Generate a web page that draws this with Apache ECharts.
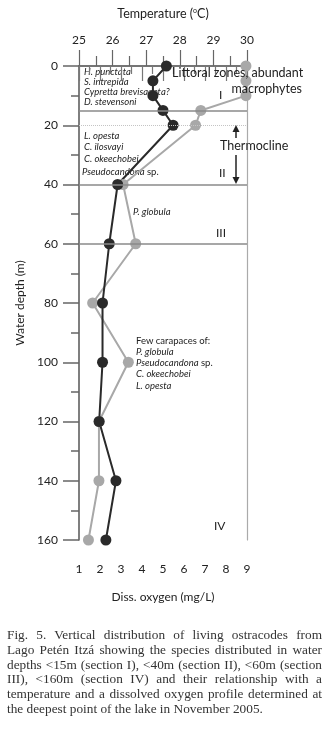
<!DOCTYPE html>
<html>
<head>
<meta charset="utf-8">
<script src="https://cdn.jsdelivr.net/npm/echarts@6/dist/echarts.min.js"></script>
<style>
  html, body { margin: 0; padding: 0; background: #fff; }
  #chart { position: absolute; left: 0; top: 0; width: 329px; height: 735px; }
  #caption {
    position: absolute; left: 7px; top: 628px; width: 315px;
    font-family: 'Liberation Serif', serif; font-size: 13.3px; line-height: 14.8px;
    color: #333;
  }
  #caption div { text-align: justify; text-align-last: justify; white-space: nowrap; }
  #caption div.last { text-align-last: left; }
</style>
</head>
<body>
<div id="chart"></div>
<div id="caption">
  <div>Fig. 5. Vertical distribution of living ostracodes from</div>
  <div>Lago Petén Itzá showing the species distributed in water</div>
  <div>depths &lt;15m (section I), &lt;40m (section II), &lt;60m (section</div>
  <div>III), &lt;160m (section IV) and their relationship with a</div>
  <div>temperature and a dissolved oxygen profile determined at</div>
  <div class="last">the deepest point of the lake in November 2005.</div>
</div>
<script>
// depth of each sample (m)
const depths = [0, 5, 10, 15, 20, 40, 60, 80, 100, 120, 140, 160]
// temperature profile (ºC) - black line, top axis
const temperature = [27.6, 27.2, 27.2, 27.5, 27.8, 26.15, 25.9, 25.7, 25.7, 25.6, 26.1, 25.8]
// dissolved oxygen (mg/L) - grey line, bottom axis
const oxygen = [8.95, 8.95, 8.95, 6.8, 6.55, 3.1, 3.7, 1.65, 3.35, 1.95, 1.95, 1.45]
// section boundaries (m) and the thermocline top
const sectionLines = [15, 40, 60]
const thermoclineTop = 20

const font = 'Lato, sans-serif'
const ink = '#222'

const chart = echarts.init(document.getElementById('chart'))

// italic species labels, drawn as plain text
const txt = (x, y, text, opt) => Object.assign({
  type: 'text', x: x, y: y, z: 0,
  style: Object.assign({
    text: text, fill: ink, font: 'italic 9.5px ' + font, verticalAlign: 'middle'
  }, opt || {})
})
const rich = { n: { fontStyle: 'normal', fontSize: 9.5, fontFamily: font } }

const option = {
  animation: false,
  grid: { left: 79, top: 66, width: 168, height: 474 },
  xAxis: [
    {
      type: 'value', position: 'top', min: 25, max: 30, interval: 1,
      name: 'Temperature ({s|o}C)', nameLocation: 'middle', nameGap: 46,
      nameTextStyle: {
        fontFamily: font, fontSize: 12.5, color: ink,
        rich: { s: { fontSize: 7, fontFamily: font, color: ink, verticalAlign: 'top', padding: [0, 0, 6, 0] } }
      },
      axisLine: { show: true, lineStyle: { color: '#8a8a8a', width: 1.5 } },
      axisTick: { show: true, length: 16, lineStyle: { color: '#666', width: 1.2 } },
      minorTick: { show: true, splitNumber: 2, length: 10, lineStyle: { color: '#666', width: 1.2 } },
      axisLabel: { fontFamily: font, fontSize: 12, color: ink, margin: 20 },
      splitLine: { show: false }
    },
    {
      type: 'value', position: 'bottom', min: 1, max: 9, interval: 1,
      name: 'Diss. oxygen (mg/L)', nameLocation: 'middle', nameGap: 51,
      nameTextStyle: { fontFamily: font, fontSize: 12, color: ink },
      axisLine: { show: true, lineStyle: { color: '#666', width: 1.5 } },
      axisTick: { show: true, length: 15, lineStyle: { color: '#777', width: 1.2 } },
      minorTick: { show: true, splitNumber: 2, length: 8, lineStyle: { color: '#777', width: 1.2 } },
      axisLabel: { fontFamily: font, fontSize: 12, color: ink, margin: 23 },
      splitLine: { show: false }
    }
  ],
  yAxis: [
    {
      type: 'value', inverse: true, min: 0, max: 160, interval: 20,
      name: 'Water depth (m)', nameLocation: 'middle', nameGap: 47,
      nameTextStyle: { fontFamily: font, fontSize: 12, color: ink },
      axisLine: { show: true, lineStyle: { color: '#555', width: 1.5 } },
      axisTick: { show: true, length: 16, lineStyle: { color: '#666', width: 1.5 } },
      minorTick: { show: true, splitNumber: 2, length: 8, lineStyle: { color: '#666', width: 1.5 } },
      axisLabel: { fontFamily: font, fontSize: 12, color: ink, margin: 21 },
      splitLine: { show: false }
    },
    {
      type: 'value', position: 'right', inverse: true, min: 0, max: 160,
      axisLine: { show: true, onZero: false, lineStyle: { color: '#aaa', width: 1.2 } },
      axisTick: { show: false }, axisLabel: { show: false }, splitLine: { show: false }
    }
  ],
  series: [
    {
      name: 'Diss. oxygen', type: 'line', xAxisIndex: 1, yAxisIndex: 0,
      data: depths.map((d, i) => [oxygen[i], d]),
      symbol: 'circle', symbolSize: 11,
      itemStyle: { color: '#a8a8a8' },
      lineStyle: { color: '#a8a8a8', width: 2 },
      markLine: {
        silent: true, symbol: 'none', label: { show: false },
        data: sectionLines.map(v => ({ yAxis: v, lineStyle: { color: '#8a8a8a', width: 1.5, type: 'solid' } }))
          .concat([{ yAxis: thermoclineTop, lineStyle: { color: '#c4c4c4', width: 1, type: 'dotted' } }])
      }
    },
    {
      name: 'Temperature', type: 'line', xAxisIndex: 0, yAxisIndex: 0,
      data: depths.map((d, i) => [temperature[i], d]),
      symbol: 'circle', symbolSize: 11,
      itemStyle: { color: '#2a2a2a' },
      lineStyle: { color: '#2a2a2a', width: 2 }
    }
  ],
  graphic: [
    txt(84, 72, 'H. punctata'),
    txt(84, 82, 'S. intrepida'),
    txt(84, 92, 'Cypretta brevisaepta?'),
    txt(84, 102, 'D. stevensoni'),
    txt(84, 136, 'L. opesta'),
    txt(84, 147, 'C. ilosvayi'),
    txt(84, 159, 'C. okeechobei'),
    txt(82, 172, 'Pseudocandona{n| sp.}', { rich: rich }),
    txt(133, 212, 'P. globula'),
    txt(136, 341, 'Few carapaces of:', { font: '9.5px ' + font }),
    txt(136, 352, 'P. globula'),
    txt(136, 363, 'Pseudocandona{n| sp.}', { rich: rich }),
    txt(136, 374, 'C. okeechobei'),
    txt(136, 386, 'L. opesta'),
    { type: 'text', x: 172, y: 73, z: 100, style: { text: 'Littoral zones, abundant', fill: ink, font: '12.5px ' + font, verticalAlign: 'middle' } },
    { type: 'text', x: 302, y: 89, z: 100, style: { text: 'macrophytes', fill: ink, font: '12.5px ' + font, verticalAlign: 'middle', align: 'right' } },
    { type: 'text', x: 220, y: 146, z: 100, style: { text: 'Thermocline', fill: ink, font: '12.5px ' + font, verticalAlign: 'middle' } },
    { type: 'text', x: 219, y: 95, z: 100, style: { text: 'I', fill: ink, font: '12px ' + font, verticalAlign: 'middle' } },
    { type: 'text', x: 219, y: 173, z: 100, style: { text: 'II', fill: ink, font: '12px ' + font, verticalAlign: 'middle' } },
    { type: 'text', x: 216, y: 233, z: 100, style: { text: 'III', fill: ink, font: '12px ' + font, verticalAlign: 'middle' } },
    { type: 'text', x: 214, y: 526, z: 100, style: { text: 'IV', fill: ink, font: '12px ' + font, verticalAlign: 'middle' } },
    // thermocline arrows
    { type: 'line', z: 100, shape: { x1: 236, y1: 138, x2: 236, y2: 130 }, style: { stroke: ink, lineWidth: 1.5 } },
    { type: 'polygon', z: 100, shape: { points: [[236, 125], [232.5, 132], [239.5, 132]] }, style: { fill: ink } },
    { type: 'line', z: 100, shape: { x1: 236, y1: 155, x2: 236, y2: 178 }, style: { stroke: ink, lineWidth: 1.5 } },
    { type: 'polygon', z: 100, shape: { points: [[236, 184], [232.5, 177], [239.5, 177]] }, style: { fill: ink } }
  ]
}

chart.setOption(option)
</script>
</body>
</html>
